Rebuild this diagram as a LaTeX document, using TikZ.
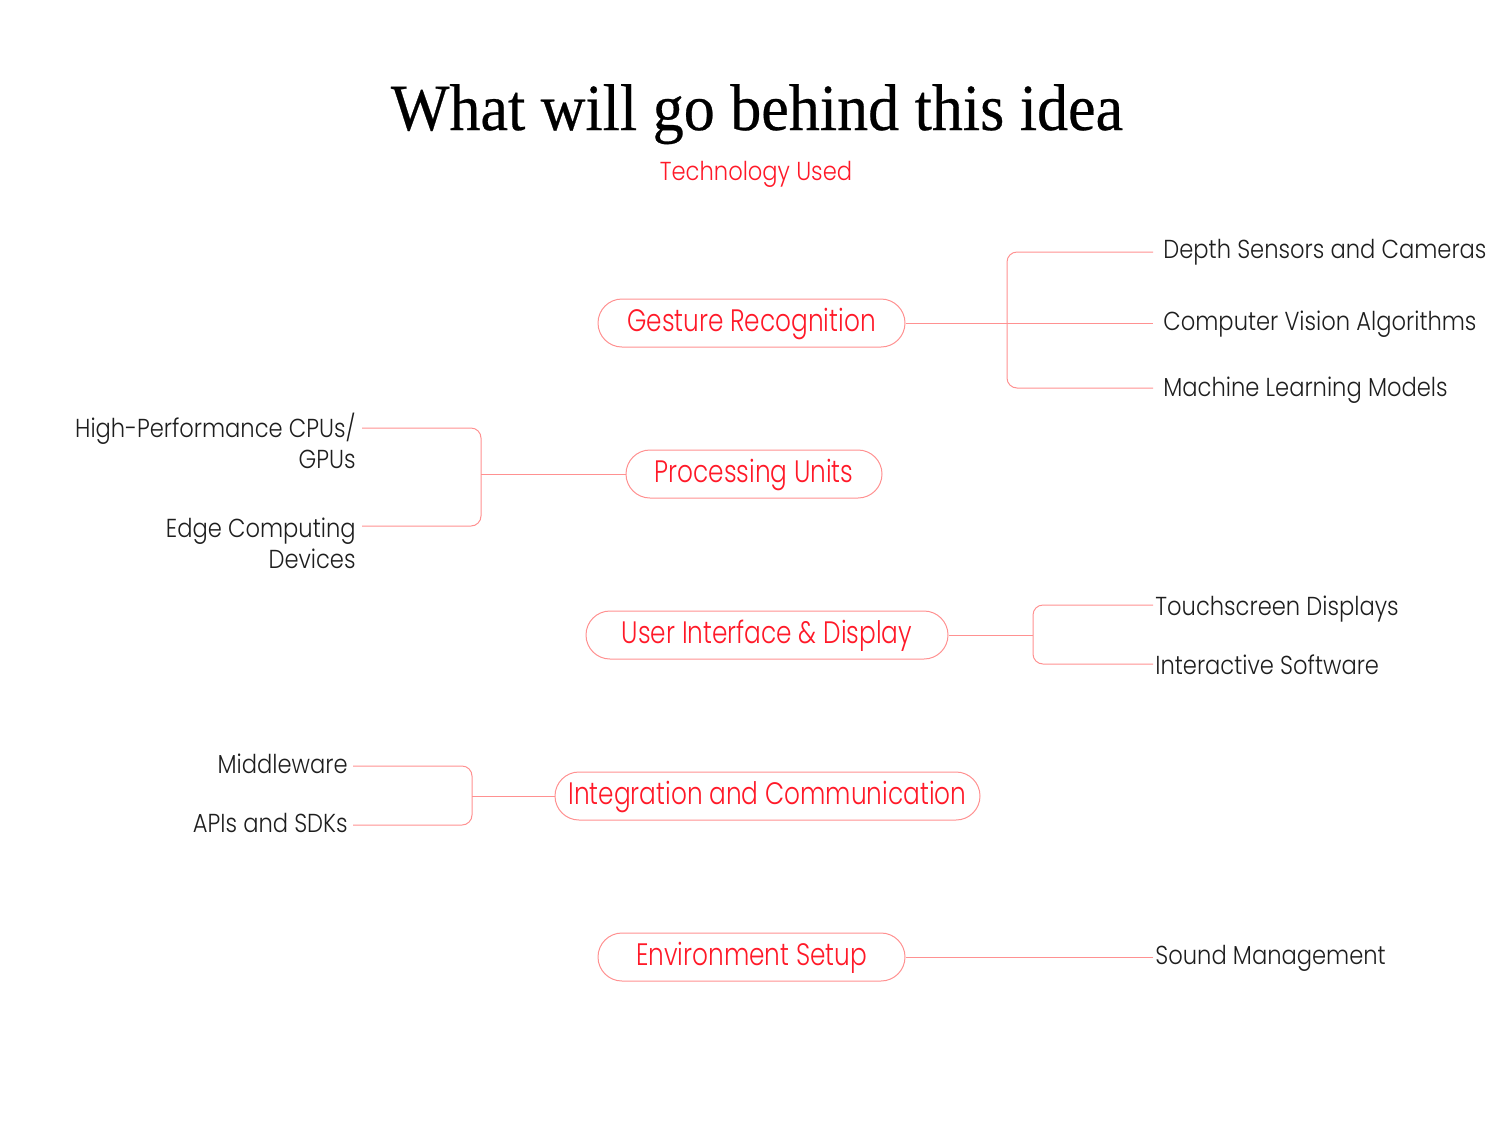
\documentclass[tikz,border=0pt]{standalone}
\usepackage{fontspec}
\setmainfont{Liberation Serif}
\newfontfamily\ttl[FakeStretch=0.94, FakeBold=0.4]{Liberation Serif}
\newfontfamily\popn[UprightFont={* Light}, FakeStretch=0.8]{Poppins}
\newfontfamily\popl[UprightFont={* Light}, FakeStretch=0.87]{Poppins}
\usetikzlibrary{calc}
\definecolor{mred}{RGB}{255,25,40}
\definecolor{mline}{RGB}{255,145,145}
\definecolor{mtext}{RGB}{30,30,30}
\tikzset{
  topic/.style={draw=mline, line width=0.5pt, rounded corners=12pt, minimum height=24pt,
    inner xsep=4pt, inner ysep=0pt, text=mred, text height=0.8em, text depth=0pt,
    font=\popn\fontsize{15.5}{18}\selectfont},
  lbl/.style={text=mtext, inner sep=0pt, text height=0.8em, text depth=0pt,
    font=\popl\fontsize{13}{15.5}\selectfont},
  mlbl/.style={text=mtext, inner sep=0pt, align=right,
    font=\popl\fontsize{13}{15.5}\selectfont},
  conn/.style={draw=mline, line width=0.5pt, rounded corners=5pt},
}
\begin{document}
\begin{tikzpicture}[x=0.5pt,y=-0.5pt]
\useasboundingbox (0,0) rectangle (1512,1121);
\node[font=\ttl\fontsize{33}{38}\selectfont, anchor=base] (title) at (757,130) {What will go behind this idea};
\node[text=mred, text height=0.8em, text depth=0pt, inner sep=0pt, font=\popl\fontsize{13}{15}\selectfont] (sub) at (756,172) {Technology Used};

% topics
\node[topic, minimum width=153.5pt] (g) at (751.5,323) {Gesture Recognition};
\node[topic, minimum width=128pt] (p) at (754,474) {Processing Units};
\node[topic, minimum width=181pt] (u) at (767,635) {User Interface \& Display};
\node[topic, minimum width=212.5pt] (i) at (767.5,796) {Integration and Communication};
\node[topic, minimum width=153.5pt] (e) at (751.5,957) {Environment Setup};

% Gesture
\node[lbl, anchor=west] (g1) at (1163,250) {Depth Sensors and Cameras};
\node[lbl, anchor=west] (g2) at (1163,322) {Computer Vision Algorithms};
\node[lbl, anchor=west] (g3) at (1163,388) {Machine Learning Models};
\coordinate (g1e) at (1153,252);
\coordinate (g2e) at (1153,323);
\coordinate (g3e) at (1153,388);
\coordinate (gx) at (1007,323);
\draw[conn] (g.east) -- (g2e);
\draw[conn] (g1e) -| (gx) |- (g3e);

% Processing
\node[mlbl, anchor=base east] (p1) at (356,468) {High-Performance CPUs/\\GPUs};
\node[mlbl, anchor=base east] (p2) at (356,568) {Edge Computing\\Devices};
\coordinate (p1e) at (362,428);
\coordinate (p2e) at (362,526);
\coordinate (px) at (481,474);
\draw[conn] (p.west) -- (px);
\draw[conn] (p1e) -| (px) |- (p2e);

% UI
\node[lbl, anchor=west] (u1) at (1155,607) {Touchscreen Displays};
\node[lbl, anchor=west] (u2) at (1155,666) {Interactive Software};
\coordinate (u1e) at (1153,605);
\coordinate (u2e) at (1153,664);
\coordinate (ux) at (1033,635);
\draw[conn] (u.east) -- (ux);
\draw[conn] (u1e) -| (ux) |- (u2e);

% Integration
\node[lbl, anchor=east] (i1) at (348,765) {Middleware};
\node[lbl, anchor=east] (i2) at (348,824) {APIs and SDKs};
\coordinate (i1e) at (353,766);
\coordinate (i2e) at (353,825);
\coordinate (ix) at (472,796);
\draw[conn] (i.west) -- (ix);
\draw[conn] (i1e) -| (ix) |- (i2e);

% Environment
\node[lbl, anchor=west] (e1) at (1155,956) {Sound Management};
\coordinate (e1e) at (1153,957);
\draw[conn] (e.east) -- (e1e);
\end{tikzpicture}
\end{document}
